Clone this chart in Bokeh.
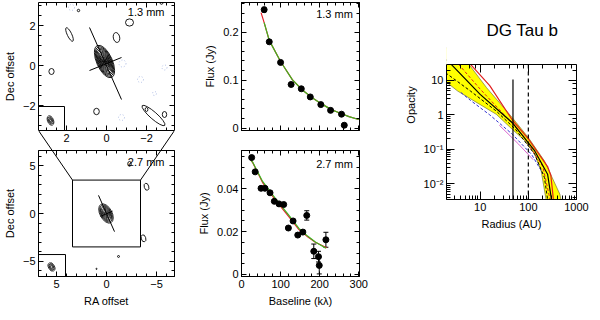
import math
from bokeh.plotting import figure
from bokeh.layouts import row, column
from bokeh.models import (FixedTicker, LinearAxis, LogAxis, Label, Whisker,
                          ColumnDataSource, CustomJSTickFormatter, Range1d, TeeHead)
from bokeh.embed import file_html
from bokeh.resources import INLINE

FONT = "Liberation Sans"
EMPTY = "return ''"

# ---------------- data ----------------
# 1.3 mm map: nested contour ellipses of the source
c13_x, c13_y, c13_ang = 0.1, 0.2, 0.42
c13_h = [1.75, 1.6, 1.45, 1.3, 1.15, 1.0, 0.86, 0.72, 0.58, 0.45, 0.32, 0.2, 0.1]
c13_w = [0.78, 0.71, 0.64, 0.57, 0.50, 0.44, 0.38, 0.32, 0.26, 0.20, 0.14, 0.09, 0.05]
# noise contours (x, y, w, h, angle)
n13_x = [1.4, 1.85, -0.5, 2.75, 0.5, -2.35, -2.0, -2.9, -1.15, -2.75]
n13_y = [2.75, 1.55, 1.4, -0.3, -2.3, -2.5, -2.2, -2.45, 2.15, 3.2]
n13_w = [0.12, 0.22, 0.32, 0.26, 0.28, 0.35, 0.14, 0.22, 0.4, 0.18]
n13_h = [0.12, 0.75, 0.5, 0.3, 0.32, 1.5, 0.2, 0.3, 0.36, 0.28]
n13_a = [0.0, 0.45, 0.2, 0.0, 0.0, 0.85, 0.0, 0.0, 0.0, 0.0]
neg13_x = [1.75, -0.8, -1.7, -2.4, -0.75, -2.9]
neg13_y = [2.9, 0.1, -0.7, -1.4, -2.6, -0.1]
neg13_s = [0.3, 0.35, 0.3, 0.2, 0.3, 0.25]
pa13_x = [0.85, -0.75]
pa13_y = [1.9, -1.7]
pp13_x = [0.85, -0.75]
pp13_y = [-0.25, 0.4]
beam13_x, beam13_y = 2.8, -2.75
beam13_h = [0.5, 0.38, 0.26, 0.14]
beam13_w = [0.3, 0.22, 0.15, 0.08]
box13_x = [3.4, 2.1, 2.1]
box13_y = [-2.05, -2.05, -3.25]

# 2.7 mm map
c27_x, c27_y, c27_ang = 0.05, 0.0, 0.5
c27_h = [2.2, 1.95, 1.7, 1.45, 1.2, 0.95, 0.7, 0.45, 0.25]
c27_w = [1.2, 1.05, 0.92, 0.8, 0.66, 0.52, 0.38, 0.25, 0.14]
n27_x = [-4.0, -3.7, -1.2, 1.0, -2.3]
n27_y = [2.8, -2.6, -4.5, -5.8, 5.2]
n27_w = [0.45, 0.45, 0.2, 0.12, 0.35]
n27_h = [0.75, 0.75, 0.2, 0.12, 0.5]
n27_a = [0.3, 0.3, 0.0, 0.0, 0.0]
pa27_x = [0.8, -0.8]
pa27_y = [1.9, -1.9]
pp27_x = [0.6, -0.6]
pp27_y = [-0.3, 0.25]
beam27_x, beam27_y = 5.5, -5.6
beam27_h = [0.95, 0.72, 0.5, 0.28]
beam27_w = [0.6, 0.45, 0.32, 0.18]
box27_x = [6.8, 4.1, 4.1]
box27_y = [-4.3, -4.3, -6.6]
zoom_half = 3.4   # half size of the 1.3 mm field drawn in the 2.7 mm map
zoom_half_y = 3.5

# 1.3 mm visibilities
b13 = [58, 71, 100, 127, 153, 176, 203, 228, 256, 263]
f13 = [0.247, 0.180, 0.137, 0.091, 0.082, 0.065, 0.049, 0.037, 0.029, 0.006]
e13 = [0.005, 0.003, 0.003, 0.003, 0.003, 0.003, 0.003, 0.003, 0.003, 0.003]
red13_b = [50, 58, 71, 100, 130, 155, 180, 206, 231, 250, 275, 300]
red13_f = [0.241, 0.220, 0.183, 0.139, 0.101, 0.080, 0.064, 0.050, 0.038, 0.032, 0.024, 0.018]
grn13_b = [58, 71, 100, 130, 155, 180, 206, 231, 250, 275, 300]
grn13_f = [0.220, 0.183, 0.139, 0.101, 0.080, 0.064, 0.050, 0.038, 0.032, 0.024, 0.018]

# 2.7 mm visibilities
b27 = [26, 35, 50, 60, 73, 84, 96, 108, 120, 132, 144, 157, 167, 185, 197, 199, 216]
f27 = [0.0547, 0.048, 0.0403, 0.0403, 0.0382, 0.0342, 0.033, 0.0327, 0.0217, 0.025,
       0.0184, 0.0198, 0.0276, 0.0108, 0.0083, 0.0042, 0.0162]
e27 = [0.0008, 0.0006, 0.0006, 0.0008, 0.0007, 0.0006, 0.0006, 0.0007, 0.0007, 0.0007,
       0.0007, 0.0008, 0.0022, 0.0034, 0.0025, 0.004, 0.0035]
red27_b = [24, 29, 54, 88, 121, 147, 170, 189, 218]
red27_f = [0.0535, 0.0522, 0.0430, 0.0345, 0.0270, 0.0210, 0.0175, 0.0150, 0.0125]
grn27_b = [24, 29, 54, 88, 121, 147, 170, 189, 216]
grn27_f = [0.0535, 0.0524, 0.0435, 0.0352, 0.0277, 0.0215, 0.0178, 0.0152, 0.0122]

# Opacity profiles
band_up_r = [2.0, 5.85, 13.6, 46.5, 100, 216, 451, 500]
band_up_o = [89, 29.2, 6.14, 0.83, 0.219, 0.046, 0.005, 0.0025]
band_lo_r = [2.0, 3.42, 8.6, 21.6, 46.5, 85.9, 136, 185, 233, 240]
band_lo_o = [8.9, 4.9, 2.26, 1.04, 0.38, 0.175, 0.0718, 0.0236, 0.00355, 0.0025]
blk_r = [2.0, 2.51, 10, 46.5, 136, 251, 302]
blk_o = [40, 29.2, 3.94, 0.594, 0.0897, 0.019, 0.00355]
blkd_r = [1.91, 6.31, 21.6, 54.2, 136, 216, 251]
blkd_o = [16.7, 4.9, 1.29, 0.38, 0.0718, 0.0151, 0.00355]
red_r = [6.31, 15.8, 46.5, 100, 251, 293, 331]
red_o = [29.2, 7.1, 0.71, 0.2, 0.0316, 0.0178, 0.00355]
redd_r = [3.55, 10, 31.6, 79.4, 200, 282]
redd_o = [29.5, 5.6, 1.0, 0.24, 0.0316, 0.00355]
blu_r = [3.98, 6.31, 15.8, 46.5, 117, 200]
blu_o = [4.47, 2.63, 1.0, 0.275, 0.0708, 0.02]
mag_r = [25, 63, 126]
mag_o = [0.5, 0.141, 0.05]
vsolid_r, vsolid_top = 48, 10.7
vdash_r = 100

# panel geometry of the two maps (data units)
P1_X = (3.4, -3.4)
P1_Y = (-3.25, 3.15)
P1_GAP = 1.0          # extra space below the 1.3 mm panel (tick labels + connectors)
P2_X = (6.8, -6.8)
P2_Y = (-6.6, 6.6)
# opacity panel
P5_X = (2, 1000)
P5_Y = (0.0035, 29)
P5_FH = 135           # frame height of the opacity panel itself
P5_TOP = 54           # space above it holding the title
TITLE_X = 75          # radius at which the title is centred


# ---------------- helpers ----------------
def style_axis(ax, tin=5, min_in=3, size="11px"):
    ax.major_tick_in = tin
    ax.major_tick_out = 0
    ax.minor_tick_in = min_in
    ax.minor_tick_out = 0
    ax.axis_line_color = "black"
    ax.major_tick_line_color = "black"
    ax.minor_tick_line_color = "black"
    ax.major_label_text_font = FONT
    ax.major_label_text_font_size = size
    ax.major_label_text_color = "black"
    ax.axis_label_text_font = FONT
    ax.axis_label_text_font_size = size
    ax.axis_label_text_font_style = "normal"
    ax.axis_label_text_color = "black"
    ax.major_label_standoff = 3
    ax.axis_label_standoff = 4


def make_fig(fw, fh, xr, yr, borders, log=False):
    l, r, t, b = borders
    p = figure(frame_width=fw, frame_height=fh,
               x_range=Range1d(*xr), y_range=Range1d(*yr),
               x_axis_type="log" if log else "linear",
               y_axis_type="log" if log else "linear",
               min_border_left=l, min_border_right=r,
               min_border_top=t, min_border_bottom=b,
               output_backend="svg", toolbar_location=None)
    p.grid.visible = False
    p.outline_line_color = "black"
    p.background_fill_color = "white"
    p.border_fill_color = "white"
    return p


def frange(a, b, s):
    n = int(round((b - a) / s))
    return [round(a + i * s, 6) for i in range(n + 1)]


def mirror_axis(p, side, ticks, minor, tin=5, min_in=3, **kw):
    ax = LinearAxis(ticker=FixedTicker(ticks=ticks, minor_ticks=minor),
                    formatter=CustomJSTickFormatter(code=EMPTY), **kw)
    style_axis(ax, tin, min_in)
    ax.major_label_standoff = 0
    p.add_layout(ax, side)
    return ax


def contours(p, cx, cy, ws, hs, ang, lw=0.8):
    p.ellipse(x=[cx] * len(ws), y=[cy] * len(ws), width=ws, height=hs, angle=ang,
              fill_color=None, line_color="black", line_width=lw)


def lbl(p, x, y, text, align="right", size="11px"):
    p.add_layout(Label(x=x, y=y, text=text, text_align=align, text_baseline="middle",
                       text_font=FONT, text_font_size=size, text_color="black"))


# ---------------- top-left: 1.3 mm map ----------------
p1 = make_fig(136, 148, P1_X, (P1_Y[0] - P1_GAP, P1_Y[1]), (31, 10, 2, 0))
p1.outline_line_color = None
xt1, xm1 = [-2, 0, 2], frange(-3, 3, 0.5)
bx = p1.below[0]
bx.ticker = FixedTicker(ticks=xt1, minor_ticks=xm1)
bx.fixed_location = P1_Y[0]
style_axis(bx)
ly = p1.left[0]
ly.ticker = FixedTicker(ticks=xt1, minor_ticks=xm1)
ly.bounds = P1_Y
ly.axis_label = "Dec offset"
style_axis(ly)
mirror_axis(p1, "above", xt1, xm1)
mirror_axis(p1, "right", xt1, xm1, bounds=P1_Y)

contours(p1, c13_x, c13_y, c13_w, c13_h, c13_ang, lw=0.9)
p1.ellipse(x=n13_x, y=n13_y, width=n13_w, height=n13_h, angle=n13_a,
           fill_color=None, line_color="black", line_width=0.9)
p1.ellipse(x=neg13_x, y=neg13_y, width=neg13_s, height=neg13_s,
           fill_color=None, line_color="#9fb0e0", line_width=0.8, line_dash="1 2")
p1.line(pa13_x, pa13_y, line_color="black", line_width=1)
p1.line(pp13_x, pp13_y, line_color="black", line_width=1)
contours(p1, beam13_x, beam13_y, beam13_w, beam13_h, 0.4)
p1.line(box13_x, box13_y, line_color="black", line_width=1)
lbl(p1, -2.9, 2.7, "1.3 mm")

# geometry of the connectors between the two maps (page pixels -> data)
s1 = 20.0                                  # px per unit in the 1.3 mm map
s2x = 136 / abs(P2_X[1] - P2_X[0])         # px per unit in the 2.7 mm map
s2y = 126 / (P2_Y[1] - P2_Y[0])
gap_px = P1_GAP * s1
corner_dx_px = (P2_X[0] - zoom_half) * s2x
corner_dy_px = gap_px + (P2_Y[1] - zoom_half_y) * s2y
for sx in (1, -1):
    p1.line([sx * P1_X[0], sx * (P1_X[0] - corner_dx_px / s1)],
            [P1_Y[0], P1_Y[0] - corner_dy_px / s1], line_color="black", line_width=1)

# ---------------- bottom-left: 2.7 mm map ----------------
p2 = make_fig(136, 126, P2_X, P2_Y, (31, 10, 0, 28))
xt2, xm2 = [-5, 0, 5], frange(-6, 6, 1)
p2.below[0].ticker = FixedTicker(ticks=xt2, minor_ticks=xm2)
p2.left[0].ticker = FixedTicker(ticks=xt2, minor_ticks=xm2)
style_axis(p2.below[0])
style_axis(p2.left[0])
p2.left[0].axis_label = "Dec offset"
p2.below[0].axis_label = "RA offset"
mirror_axis(p2, "above", xt2, xm2, fixed_location=P2_Y[1])
mirror_axis(p2, "right", xt2, xm2)

contours(p2, c27_x, c27_y, c27_w, c27_h, c27_ang)
p2.ellipse(x=n27_x, y=n27_y, width=n27_w, height=n27_h, angle=n27_a,
           fill_color=None, line_color="black", line_width=0.9)
p2.line(pa27_x, pa27_y, line_color="black", line_width=1)
p2.line(pp27_x, pp27_y, line_color="black", line_width=1)
contours(p2, beam27_x, beam27_y, beam27_w, beam27_h, 0.5)
p2.line(box27_x, box27_y, line_color="black", line_width=1)
p2.line([zoom_half, -zoom_half, -zoom_half, zoom_half, zoom_half],
        [zoom_half_y, zoom_half_y, -zoom_half_y, -zoom_half_y, zoom_half_y],
        line_color="black", line_width=1)
lbl(p2, -5.8, 5.4, "2.7 mm")
for sx in (1, -1):
    p2.line([sx * P2_X[0], sx * zoom_half], [P2_Y[1] + gap_px / s2y, zoom_half_y],
            line_color="black", line_width=1)


# ---------------- middle panels: visibilities ----------------
def vis_panel(fh, yr, borders, yt, ym, xlab):
    p = make_fig(118, fh, (0, 302), yr, borders)
    xt, xm = [0, 100, 200, 300], frange(0, 300, 20)
    p.below[0].ticker = FixedTicker(ticks=xt, minor_ticks=xm)
    p.left[0].ticker = FixedTicker(ticks=yt, minor_ticks=ym)
    if not xlab:
        p.below[0].formatter = CustomJSTickFormatter(code=EMPTY)
    style_axis(p.below[0])
    style_axis(p.left[0])
    p.left[0].axis_label = "Flux (Jy)"
    p.left[0].major_label_overrides = {0: "0"}
    mirror_axis(p, "above", xt, xm)
    mirror_axis(p, "right", yt, ym)
    return p


def vis_data(p, b, f, e, rb, rf, gb, gf, head):
    p.line(rb, rf, line_color="#e8202a", line_width=1.2)
    p.line(gb, gf, line_color="#3cb521", line_width=1.2)
    src = ColumnDataSource(dict(x=b, y=f, up=[v + d for v, d in zip(f, e)],
                                lo=[v - d for v, d in zip(f, e)]))
    p.add_layout(Whisker(source=src, base="x", upper="up", lower="lo", line_color="black",
                         upper_head=TeeHead(size=head, line_color="black"),
                         lower_head=TeeHead(size=head, line_color="black")))
    p.scatter("x", "y", source=src, size=6, color="black")


p3 = vis_panel(128, (-0.005, 0.262), (57, 10, 2, 18), [0, 0.1, 0.2], frange(0, 0.26, 0.02), False)
vis_data(p3, b13, f13, e13, red13_b, red13_f, grn13_b, grn13_f, 4)
lbl(p3, 285, 0.237, "1.3 mm")

p4 = vis_panel(126, (-0.001, 0.058), (57, 10, 2, 28), [0, 0.02, 0.04], frange(0, 0.055, 0.005), True)
p4.below[0].axis_label = "Baseline (kλ)"
vis_data(p4, b27, f27, e27, red27_b, red27_f, grn27_b, grn27_f, 5)
lbl(p4, 285, 0.0516, "2.7 mm")

# ---------------- right: opacity profile ----------------
dec_px = P5_FH / math.log10(P5_Y[1] / P5_Y[0])        # px per decade
y_top = P5_Y[1] * 10 ** (P5_TOP / dec_px)
p5 = make_fig(130, P5_FH + P5_TOP, P5_X, (P5_Y[0], y_top), (77, 15, 10, 105), log=True)
p5.outline_line_color = None
bx5, ly5 = p5.below[0], p5.left[0]
style_axis(bx5, 8, 4)
style_axis(ly5, 8, 4)
ly5.bounds = P5_Y
bx5.axis_label = "Radius (AU)"
ly5.axis_label = "Opacity"
bx5.formatter = CustomJSTickFormatter(code="return tick.toFixed(0);")
ly5.formatter = CustomJSTickFormatter(code="""
const e = Math.round(Math.log10(tick));
if (e >= 0) { return String(Math.round(tick)); }
const sup = {"-1": "\u207b\u00b9", "-2": "\u207b\u00b2", "-3": "\u207b\u00b3"};
return "10" + sup[String(e)];
""")
top5 = LogAxis(formatter=CustomJSTickFormatter(code=EMPTY), fixed_location=P5_Y[1])
rgt5 = LogAxis(formatter=CustomJSTickFormatter(code=EMPTY), bounds=P5_Y)
for ax, side in ((top5, "above"), (rgt5, "right")):
    style_axis(ax, 8, 4)
    ax.major_label_standoff = 0
    p5.add_layout(ax, side)

# uncertainty band: filled area plus its two edges
p5.patch(band_up_r + band_lo_r[::-1], band_up_o + band_lo_o[::-1],
         fill_color="#ffff00", line_color=None)
p5.line(band_up_r, band_up_o, line_color="#7a7a30", line_width=0.7)
p5.line(band_lo_r, band_lo_o, line_color="#7a7a30", line_width=0.7)
p5.line(mag_r, mag_o, line_color="#d040c0", line_width=0.8)
p5.line(blu_r, blu_o, line_color="#3030d0", line_width=1, line_dash="3 2")
p5.line(redd_r, redd_o, line_color="#e02020", line_width=1, line_dash="3 2")
p5.line(blkd_r, blkd_o, line_color="black", line_width=1, line_dash="3 2")
p5.line(red_r, red_o, line_color="#e02020", line_width=1.2)
p5.line(blk_r, blk_o, line_color="black", line_width=1.2)
p5.segment(x0=[vsolid_r], y0=[vsolid_top], x1=[vsolid_r], y1=[P5_Y[0]],
           line_color="black", line_width=1.2)
p5.segment(x0=[vdash_r], y0=[P5_Y[1]], x1=[vdash_r], y1=[P5_Y[0]],
           line_color="black", line_width=1.2, line_dash="4 3")
# blank the title area above the panel
p5.quad(left=[P5_X[0] * 0.8], right=[P5_X[1] * 1.2], bottom=[P5_Y[1]], top=[y_top * 2],
        fill_color="white", line_color=None)
title_y = y_top / 10 ** (20 / dec_px)
lbl(p5, TITLE_X, title_y, "DG Tau b", align="center", size="17px")

layout = row(column(p1, p2), column(p3, p4), p5)
open("out.html", "w").write(file_html(layout, INLINE))
